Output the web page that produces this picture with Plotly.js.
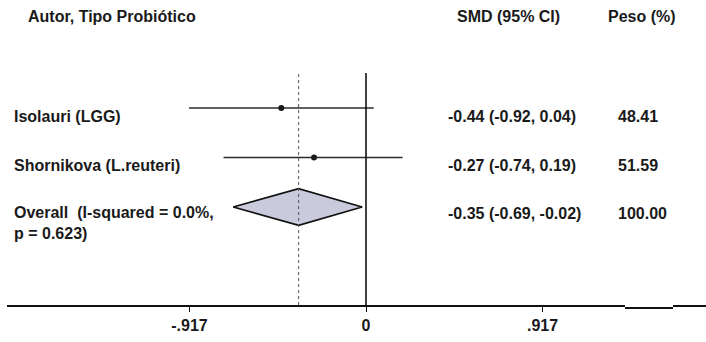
<!DOCTYPE html>
<html>
<head>
<meta charset="utf-8">
<script src="https://cdn.plot.ly/plotly-3.0.1.min.js"></script>
<style>html,body{margin:0;padding:0;background:#fff;}#chart{width:706px;height:342px;}</style>
</head>
<body>
<div id="chart"></div>
<script>
// ---- data ----
const studies = ['Isolauri (LGG)', 'Shornikova (L.reuteri)'];
const smd = [-0.44, -0.27];
const lower = [-0.92, -0.74];
const upper = [0.04, 0.19];
const weights = ['48.41', '51.59'];
const overallLabel = 'Overall  (I-squared = 0.0%,<br>p = 0.623)';
const overallSmd = [-0.35];
const overallLower = [-0.69];
const overallUpper = [-0.02];
const overallWeight = ['100.00'];
const headers = ['Autor, Tipo Probiótico', 'SMD (95% CI)', 'Peso (%)'];
const tickVals = [-0.917, 0, 0.917];
const tickText = ['-.917', '0', '.917'];

// ---- build ----
const FONT = 'Liberation Sans, Arial, sans-serif';
const rows = studies.map((_, i) => i + 1);
const overallRow = studies.length + 1;
const traces = [];

studies.forEach((s, i) => {
  traces.push({
    x: [lower[i], upper[i]], y: [rows[i], rows[i]],
    mode: 'lines', line: {color: '#2b2b2b', width: 1.3},
    hoverinfo: 'skip', showlegend: false
  });
});
traces.push({
  x: smd, y: rows, mode: 'markers',
  marker: {color: '#1a1a1a', size: 6, symbol: 'circle'},
  hoverinfo: 'skip', showlegend: false
});
const h = 0.37;
traces.push({
  x: [overallLower[0], overallSmd[0], overallUpper[0], overallSmd[0], overallLower[0]],
  y: [overallRow, overallRow - h, overallRow, overallRow + h, overallRow],
  mode: 'lines', fill: 'toself', fillcolor: '#c9cadb',
  line: {color: '#111', width: 1.6}, hoverinfo: 'skip', showlegend: false
});

const fmt = v => v.toFixed(2);
const ann = [];
const L = 7, W = 699;
const px = p => (p - L) / W;
const txtFont = {family: FONT, size: 16, color: '#1a1a1a'};
function addText(text, xp, yref, y, yshift) {
  ann.push({text: '<b>' + text + '</b>', xref: 'paper', x: px(xp), xanchor: 'left',
    yref: yref, y: y, yanchor: 'middle', yshift: yshift || 0, showarrow: false,
    font: txtFont, align: 'left'});
}
// headers
addText(headers[0], 26, 'paper', (305 - 17) / 305);
addText(headers[1], 455, 'paper', (305 - 17) / 305);
addText(headers[2], 606, 'paper', (305 - 17) / 305);
studies.forEach((s, i) => {
  addText(s, 12, 'y', rows[i], -8);
  addText(fmt(smd[i]) + ' (' + fmt(lower[i]) + ', ' + fmt(upper[i]) + ')', 446, 'y', rows[i], -8);
  addText(weights[i], 616, 'y', rows[i], -8);
});
addText(overallLabel, 12, 'y', overallRow, -16);
addText(fmt(overallSmd[0]) + ' (' + fmt(overallLower[0]) + ', ' + fmt(overallUpper[0]) + ')', 446, 'y', overallRow, -6);
addText(overallWeight[0], 616, 'y', overallRow, -6);

const topFrac = (305 - 73) / 305;
const shapes = [
  {type: 'line', xref: 'x', yref: 'paper', x0: 0, x1: 0, y0: 0, y1: topFrac,
   line: {color: '#111', width: 1.6}},
  {type: 'line', xref: 'x', yref: 'paper', x0: overallSmd[0], x1: overallSmd[0], y0: 0, y1: topFrac,
   line: {color: '#555', width: 1, dash: '3px,3px'}},
  // scanned-axis artefact near the right end
  {type: 'rect', xref: 'paper', yref: 'paper', x0: px(625), x1: px(673), y0: -8 / 305, y1: 6 / 305,
   fillcolor: '#fff', line: {width: 0}},
  {type: 'line', xref: 'paper', yref: 'paper', x0: px(625), x1: px(673), y0: -3 / 305, y1: -3 / 305,
   line: {color: '#111', width: 2}}
];

const layout = {
  width: 706, height: 342,
  margin: {l: L, r: 0, t: 0, b: 37},
  paper_bgcolor: '#fff', plot_bgcolor: '#fff',
  showlegend: false,
  xaxis: {
    range: [(L - 366) / 192.5, (706 - 366) / 192.5],
    showgrid: false, zeroline: false,
    showline: true, linecolor: '#111', linewidth: 1.5,
    ticks: 'outside', ticklen: 5, tickcolor: '#111', tickwidth: 1,
    tickvals: tickVals, ticktext: tickText,
    tickfont: {family: FONT, size: 16, color: '#1a1a1a', weight: 'bold'},
    fixedrange: true
  },
  yaxis: {
    range: [1 + (305 - 108) / 49.5, 1 - 108 / 49.5],
    visible: false, showgrid: false, zeroline: false, fixedrange: true
  },
  annotations: ann,
  shapes: shapes
};
Plotly.newPlot('chart', traces, layout, {displayModeBar: false, staticPlot: true});
</script>
</body>
</html>
